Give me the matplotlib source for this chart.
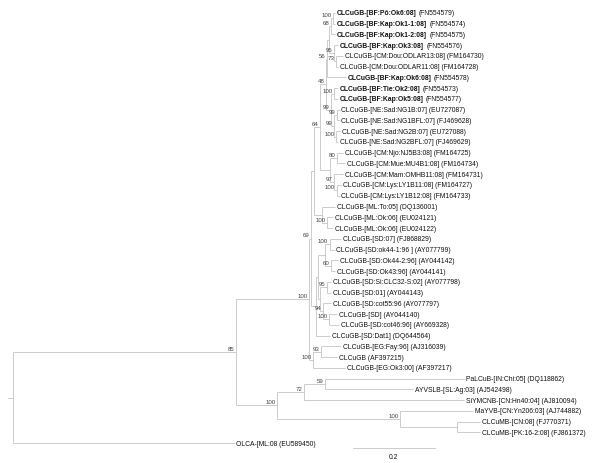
import matplotlib
matplotlib.use("Agg")
import matplotlib.pyplot as plt

# Feuilles de l'arbre, de haut en bas (l'indice sert de nom dans le newick)
leaf_names = [
    "CLCuGB-[BF:Pô:Ok6:08]", "CLCuGB-[BF:Kap:Ok1-1:08]", "CLCuGB-[BF:Kap:Ok1-2:08]",
    "CLCuGB-[BF:Kap:Ok3:08]", "CLCuGB-[CM:Dou:ODLAR13:08]", "CLCuGB-[CM:Dou:ODLAR11:08]",
    "CLCuGB-[BF:Kap:Ok6:08]", "CLCuGB-[BF:Tie:Ok2:08]", "CLCuGB-[BF:Kap:Ok5:08]",
    "CLCuGB-[NE:Sad:NG1B:07]", "CLCuGB-[NE:Sad:NG1BFL:07]", "CLCuGB-[NE:Sad:NG2B:07]",
    "CLCuGB-[NE:Sad:NG2BFL:07]", "CLCuGB-[CM:Njo:NJ5B3:08]", "CLCuGB-[CM:Mue:MU4B1:08]",
    "CLCuGB-[CM:Mam:OMHB11:08]", "CLCuGB-[CM:Lys:LY1B11:08]", "CLCuGB-[CM:Lys:LY1B12:08]",
    "CLCuGB-[ML:To:05]", "CLCuGB-[ML:Ok:06]", "CLCuGB-[ML:Ok:06]",
    "CLCuGB-[SD:07]", "CLCuGB-[SD:ok44-1:96 ]", "CLCuGB-[SD:Ok44-2:96]",
    "CLCuGB-[SD:Ok43:96]", "CLCuGB-[SD:Si:CLC32-S:02]", "CLCuGB-[SD:01]",
    "CLCuGB-[SD:cot55:96", "CLCuGB-[SD]", "CLCuGB-[SD:cot46:96]",
    "CLCuGB-[SD:Dat1]", "CLCuGB-[EG:Fay:96]", "CLCuGB",
    "CLCuGB-[EG:Ok3:00]", "PaLCuB-[IN:Chi:05]", "AYVSLB-[SL:Ag:03]",
    "SiYMCNB-[CN:Hn40:04]", "MaYVB-[CN:Yn206:03]", "CLCuMB-[CN:08]",
    "CLCuMB-[PK:16-2:08]", "OLCA-[ML:08",
]
accessions = [
    "FN554579", "FN554574", "FN554575", "FN554576", "FM164730", "FM164728",
    "FN554578", "FN554573", "FN554577", "EU727087", "FJ469628", "EU727088",
    "FJ469629", "FM164725", "FM164734", "FM164731", "FM164727", "FM164733",
    "DQ136001", "EU024121", "EU024122", "FJ868829", "AY077799", "AY044142",
    "AY044141", "AY077798", "AY044143", "AY077797", "AY044140", "AY669328",
    "DQ644564", "AJ316039", "AF397215", "AF397217", "DQ118862", "AJ542498",
    "AJ810094", "AJ744882", "FJ770371", "FJ861372", "EU589450",
]
bold_leaves = [0, 1, 2, 3, 6, 7, 8]

# Arbre (longueurs de branche en substitutions/site, valeurs de bootstrap)
tree_newick = (
    "(((((((((((0:0.005,1:0.005)100:0.005,2:0.010)68:0.005,"
    "(3:0.010,(4:0.017,5:0.005)73:0.005)95:0.012):0.005,6:0.046)56:0.002,"
    "((7:0.010,8:0.010)100:0.007,((9:0.007,10:0.007)99:0.007,"
    "(11:0.010,12:0.005)100:0.005)99:0.007)99:0.012)48:0.015,"
    "((13:0.015,14:0.020)80:0.017,(15:0.022,(16:0.012,17:0.007)100:0.007)97:0.010):0.024)64:0.015,"
    "(18:0.032,(19:0.015,20:0.015)100:0.012):0.020):0.007,"
    "((((21:0.027,22:0.012)100:0.012,(23:0.017,24:0.010)60:0.015):0.017,"
    "((25:0.010,26:0.010)95:0.017,(27:0.020,(28:0.020,29:0.024)100:0.015)94:0.007):0.005):0.005,"
    "30:0.034):0.012)69:0.005,"
    "((31:0.049,32:0.039)93:0.020,33:0.078)100:0.010)100:0.178,"
    "(((34:0.341,35:0.215)59:0.051,36:0.390)72:0.066,"
    "(37:0.178,(38:0.056,39:0.056):0.139)100:0.300)100:0.100)85:0.544,"
    "40:0.541):0.012;"
)
scale_value = 0.2

line_color = "#c4c4c4"
text_color = "#111111"
support_color = "#444444"
leaf_size = 4.9
support_size = 4.4
plt.rcParams["font.family"] = ["Liberation Sans", "DejaVu Sans"]


# Lecture du newick
def parse_newick(text):
    pos = 0

    def read_token():
        nonlocal pos
        start = pos
        while pos < len(text) and text[pos] not in ",():;":
            pos += 1
        return text[start:pos]

    def read_node():
        nonlocal pos
        node = {"children": []}
        if text[pos] == "(":
            pos += 1
            node["children"].append(read_node())
            while text[pos] == ",":
                pos += 1
                node["children"].append(read_node())
            pos += 1
        node["label"] = read_token()
        node["length"] = 0.0
        if pos < len(text) and text[pos] == ":":
            pos += 1
            node["length"] = float(read_token())
        return node

    return read_node()


# Position x (distance a la racine) et y (ordre des feuilles)
def layout(node, x0):
    node["x"] = x0 + node["length"]
    if node["children"]:
        for c in node["children"]:
            layout(c, node["x"])
        node["y"] = (node["children"][0]["y"] + node["children"][-1]["y"]) / 2
    else:
        node["y"] = int(node["label"])


def draw(ax, node, parent_x):
    ax.plot([parent_x, node["x"]], [node["y"], node["y"]], color=line_color, lw=0.6,
            solid_capstyle="butt")
    if node["children"]:
        ys = [c["y"] for c in node["children"]]
        ax.plot([node["x"], node["x"]], [min(ys), max(ys)], color=line_color, lw=0.6,
                solid_capstyle="butt")
        for c in node["children"]:
            draw(ax, c, node["x"])
        if node["label"]:
            ax.annotate(node["label"], xy=(node["x"], node["y"]), xytext=(-1.2, 2.6),
                        textcoords="offset points", ha="right", va="center",
                        fontsize=support_size, color=support_color)
    else:
        i = int(node["label"])
        if i in bold_leaves:
            # nom en gras, numero d'accession en normal
            t = ax.annotate(leaf_names[i], xy=(node["x"], node["y"]), xytext=(1.2, 0),
                            textcoords="offset points", ha="left", va="center",
                            fontsize=leaf_size, fontweight="bold", color=text_color)
            ax.annotate("(" + accessions[i] + ")", xy=(1, 0.5), xycoords=t,
                        xytext=(1.8, 0), textcoords="offset points", ha="left",
                        va="center", fontsize=leaf_size, color=text_color)
        else:
            ax.annotate(leaf_names[i] + " (" + accessions[i] + ")",
                        xy=(node["x"], node["y"]), xytext=(1.2, 0),
                        textcoords="offset points", ha="left", va="center",
                        fontsize=leaf_size, color=text_color)


tree = parse_newick(tree_newick)
layout(tree, 0.0)

fig = plt.figure(figsize=(6, 4.64), dpi=100)
ax = fig.add_axes([0, 0, 1, 1])
ax.axis("off")
ax.set_xlim(-8 / 410, 592 / 410)
ax.set_ylim(41.86, -1.302)

draw(ax, tree, 0.0)

# Barre d'echelle
sb_x, sb_y = 0.841, 40.47
ax.plot([sb_x, sb_x + scale_value], [sb_y, sb_y], color=line_color, lw=0.6)
ax.text(sb_x + scale_value / 2, sb_y + 0.45, str(scale_value), ha="center", va="top",
        fontsize=leaf_size, color=text_color)

fig.savefig("out.png", dpi=100)
